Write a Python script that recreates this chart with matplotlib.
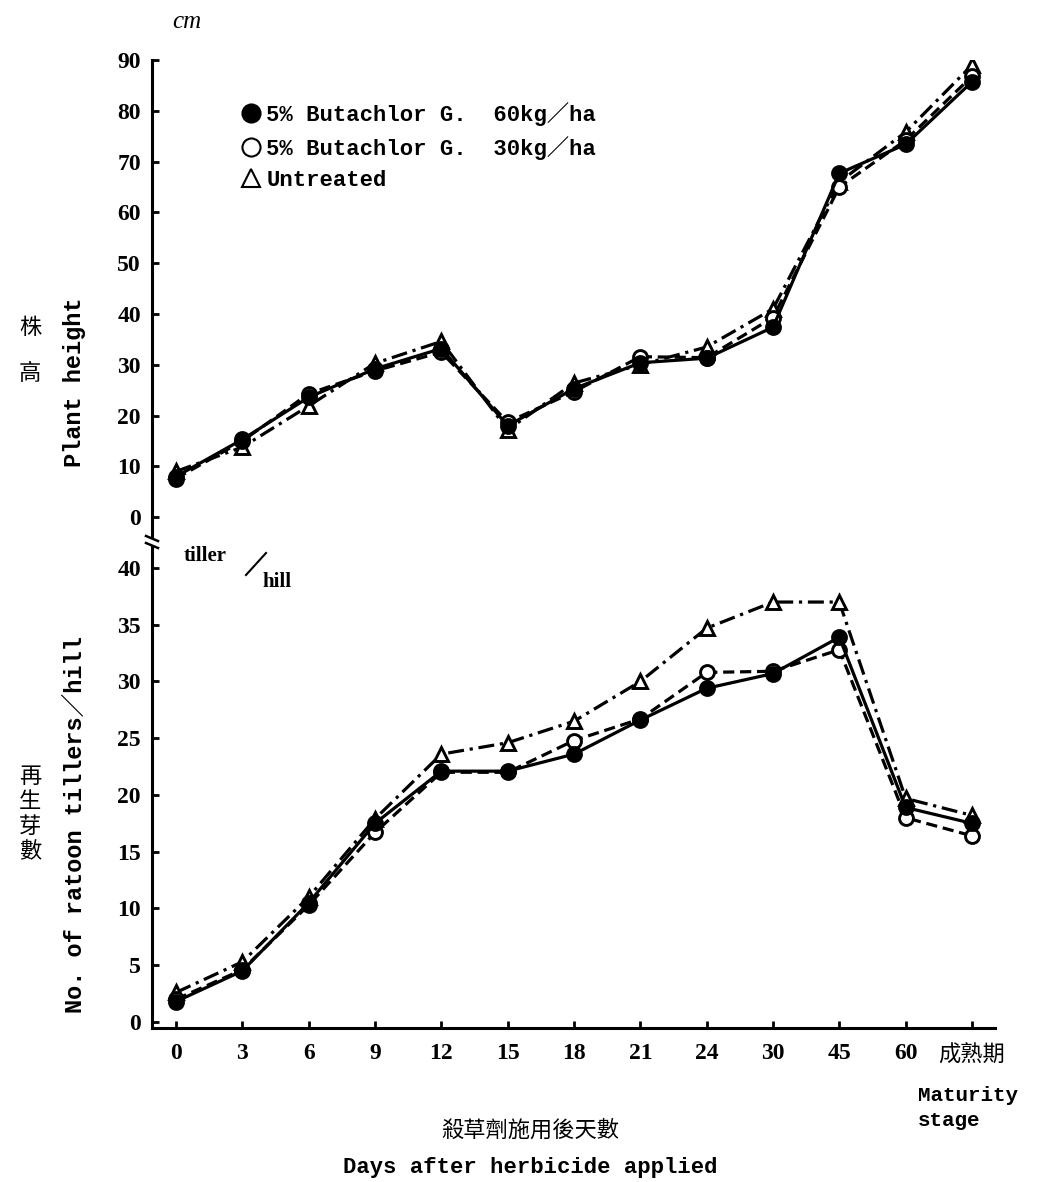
import matplotlib
matplotlib.use('Agg')
import matplotlib.pyplot as plt
from matplotlib.lines import Line2D
from matplotlib.font_manager import FontProperties

# 資料
x_labels = ['0', '3', '6', '9', '12', '15', '18', '21', '24', '30', '45', '60', '成熟期']

# 株高 Plant height (cm)
height_60 = [8.0, 15.3, 23.6, 29.2, 33.2, 18.0, 25.3, 30.4, 31.3, 37.4, 67.7, 73.4, 85.7]
height_30 = [7.6, 15.0, 24.3, 28.8, 32.5, 18.7, 24.7, 31.6, 31.4, 39.3, 65.0, 74.2, 86.8]
height_ck = [9.0, 13.8, 21.9, 30.3, 34.6, 17.2, 26.4, 30.0, 33.5, 41.0, 66.0, 75.8, 89.0]

# 再生芽數 tillers / hill
till_60 = [1.8, 4.5, 10.5, 17.5, 22.1, 22.1, 23.6, 26.6, 29.4, 30.7, 33.9, 18.9, 17.5]
till_30 = [2.0, 4.6, 10.3, 16.7, 22.0, 22.0, 24.8, 26.7, 30.8, 30.9, 32.8, 18.0, 16.4]
till_ck = [2.6, 5.3, 11.0, 17.9, 23.6, 24.6, 26.5, 30.0, 34.7, 37.0, 37.0, 19.7, 18.2]

legend_labels = ['5% Butachlor G.  60kg／ha', '5% Butachlor G.  30kg／ha', 'Untreated']

W, H = 1052, 1182
fig = plt.figure(figsize=(W / 100, H / 100), dpi=100)

mono = ['Liberation Mono', 'Noto Sans CJK TC']
cjk = ['Noto Sans CJK TC', 'DejaVu Sans']
num_font = dict(family='Liberation Serif', weight='bold', size=17)

left = 152 / W
width = (995 - 152) / W
ax1 = fig.add_axes([left, 1 - 537 / H, width, (537 - 60) / H])
ax2 = fig.add_axes([left, 1 - 1028 / H, width, (1028 - 547) / H], sharex=ax1)

x = list(range(len(x_labels)))

styles = [
    dict(ls='-', marker='o', mfc='black', mec='black'),
    dict(ls=(0, (3.5, 1.8)), marker='o', mfc='white', mec='black'),
    dict(ls=(0, (5, 1.8, 1, 1.8)), marker='^', mfc='white', mec='black'),
]

for ax, series in [(ax1, [height_60, height_30, height_ck]),
                   (ax2, [till_60, till_30, till_ck])]:
    for ys, st in zip(series[::-1], styles[::-1]):
        ax.plot(x, ys, color='black', lw=2.3, ms=10, mew=2.1,
                ls=st['ls'], marker=st['marker'], mfc=st['mfc'], mec=st['mec'])
    for s in ['top', 'right']:
        ax.spines[s].set_visible(False)
    ax.spines['left'].set_linewidth(2.2)
    ax.tick_params(axis='y', direction='in', length=5, width=2, pad=8)

ax1.set_ylim(-3.9, 90)
ax1.set_yticks(range(0, 91, 10))
ax1.spines['bottom'].set_visible(False)
ax1.tick_params(axis='x', bottom=False, labelbottom=False)

ax2.set_ylim(-0.53, 41.85)
ax2.set_yticks(range(0, 41, 5))
ax2.spines['bottom'].set_linewidth(2.2)
ax2.set_xlim(-0.362, 12.347)
ax2.set_xticks(x)
ax2.set_xticklabels(x_labels)
ax2.tick_params(axis='x', direction='in', length=5, width=2, pad=11)

for ax in (ax1, ax2):
    for lab in ax.get_yticklabels():
        lab.set_fontproperties(FontProperties(**num_font))
for lab in ax2.get_xticklabels():
    lab.set_fontproperties(FontProperties(**num_font))
last = ax2.get_xticklabels()[-1]
last.set_fontproperties(FontProperties(family=cjk, size=16))
last.set_x(12.1)

# 軸斷開記號
for dy in (0, 7):
    fig.add_artist(Line2D([146 / W, 158 / W], [1 - (536 + dy) / H, 1 - (541 + dy) / H],
                          color='black', lw=1.8))

# 圖例
handles = [Line2D([], [], ls='none', marker=st['marker'], mfc=st['mfc'], mec='black',
                  ms=13, mew=1.5) for st in styles]
ax1.legend(handles, legend_labels, loc='upper left', frameon=False,
           bbox_to_anchor=(222 / W, 1 - 82 / H), bbox_transform=fig.transFigure,
           prop=FontProperties(family=mono, weight='bold', size=16),
           handlelength=0.8, handletextpad=0.3, labelspacing=0.45)

# 文字
fig.text(172 / W, 1 - 22 / H, 'cm', style='italic', fontsize=18, family='Liberation Serif',
         ha='left', va='center')
fig.text(30 / W, 1 - 350 / H, '株\n\n高', family=cjk, fontsize=16, ha='center', va='center',
         linespacing=1.0)
fig.text(75 / W, 1 - 382 / H, 'Plant height', family=mono, weight='bold', fontsize=17,
         rotation=90, ha='center', va='center')
fig.text(30 / W, 1 - 814 / H, '再\n生\n芽\n數', family=cjk, fontsize=16, ha='center', va='center',
         linespacing=1.1)
fig.text(75 / W, 1 - 825 / H, 'No. of ratoon tillers／hill', family=mono, weight='bold',
         fontsize=17, rotation=90, ha='center', va='center')
fig.text(184 / W, 1 - 556 / H, 'tiller', family='Liberation Serif', weight='bold', fontsize=15,
         ha='left', va='center')
fig.add_artist(Line2D([246 / W, 266 / W], [1 - 575 / H, 1 - 553 / H], color='black', lw=1.5))
fig.text(262 / W, 1 - 582 / H, 'hill', family='Liberation Serif', weight='bold', fontsize=15,
         ha='left', va='center')
fig.text(918 / W, 1 - 1108 / H, 'Maturity\nstage', family=mono, weight='bold', fontsize=15,
         ha='left', va='center', linespacing=1.4)
fig.text(530 / W, 1 - 1130 / H, '殺草劑施用後天數', family=cjk, fontsize=16, ha='center', va='center')
fig.text(530 / W, 1 - 1167 / H, 'Days after herbicide applied', family=mono, weight='bold',
         fontsize=16, ha='center', va='center')

fig.savefig('out.png', dpi=100)
